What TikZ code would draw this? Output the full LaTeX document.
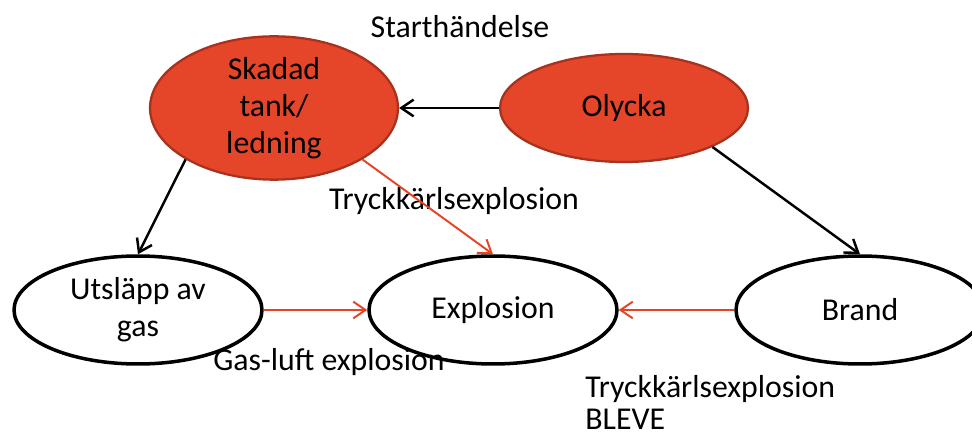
\documentclass[tikz,border=0pt]{standalone}
\usepackage{fontspec}
\setmainfont{Carlito}
\usetikzlibrary{shapes.geometric,arrows.meta}
\definecolor{hotfill}{RGB}{229,69,40}
\definecolor{hotedge}{RGB}{168,50,30}
\definecolor{arrowred}{RGB}{232,66,36}
\begin{document}
\begin{tikzpicture}[x=0.02cm, y=0.02cm, font=\fontsize{18.1}{21}\selectfont,
  state/.style={ellipse, minimum width=4.96cm, minimum height=2.16cm, inner sep=0pt, align=center},
  hotstate/.style={state, fill=hotfill, draw=hotedge, line width=1.3pt},
  coldstate/.style={state, fill=white, draw=black, line width=2pt},
  blackarrow/.style={draw=black, line width=1.4pt, -{Straight Barb[length=7pt,width=9.5pt]}},
  redarrow/.style={draw=arrowred, line width=1.1pt, -{Straight Barb[length=7pt,width=9.5pt]}}]
  \useasboundingbox (0,0) rectangle (972,439);
  \clip (0,0) rectangle (972,439);
  % states
  \node[hotstate] (skadad) at (274,331) {Skadad\\tank/\\ledning};
  \node[hotstate] (olycka) at (624,331) {Olycka};
  \node[coldstate] (utslapp) at (138,129) {Utsläpp av\\gas};
  \node[coldstate] (explosion) at (493,129) {Explosion};
  \node[coldstate] (brand) at (860,129) {Brand};
  % labels
  \node[anchor=base, inner sep=0pt] (start) at (460,401) {Starthändelse};
  \node[anchor=base, inner sep=0pt] (tryck) at (454,229) {Tryckkärlsexplosion};
  \node[anchor=base, inner sep=0pt] (gasluft) at (329,69) {Gas-luft explosion};
  \node[anchor=north west, inner sep=0pt, align=left,
    font=\fontsize{18.1}{18.5}\selectfont] (bleve) at (585,64) {Tryckkärlsexplosion\\BLEVE};
  % connectors
  \draw[blackarrow] (olycka.west) -- (skadad.east);
  \draw[blackarrow] (skadad.south west) -- (utslapp.north);
  \draw[blackarrow] (olycka.south east) -- (brand.north);
  \draw[redarrow] (skadad.south east) -- (explosion.north);
  \draw[redarrow] (utslapp.east) -- (explosion.west);
  \draw[redarrow] (brand.west) -- (explosion.east);
\end{tikzpicture}
\end{document}
